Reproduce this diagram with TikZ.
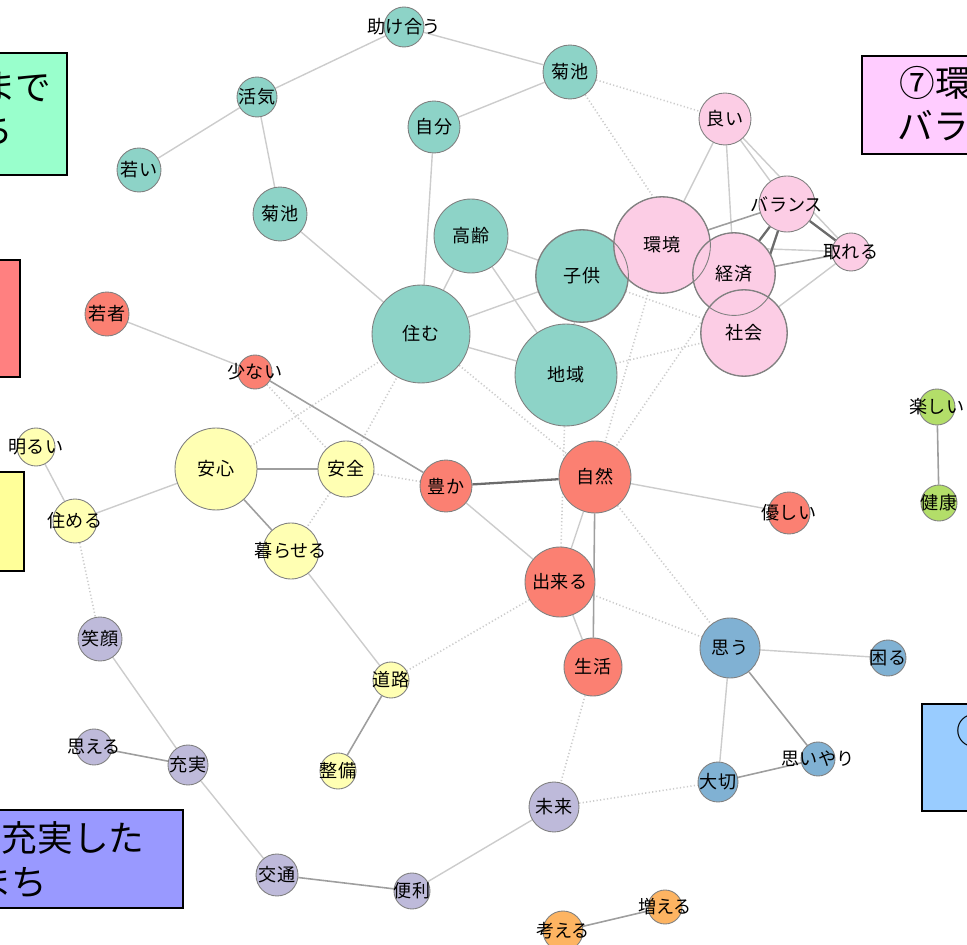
\documentclass[tikz,border=0pt]{standalone}
\usepackage{fontspec}
\setmainfont{Noto Sans CJK JP}
\usetikzlibrary{backgrounds,calc}

\definecolor{cTeal}{HTML}{8DD3C7}
\definecolor{cPink}{HTML}{FCCDE5}
\definecolor{cRed}{HTML}{FB8072}
\definecolor{cYellow}{HTML}{FFFFB3}
\definecolor{cPurple}{HTML}{BEBADA}
\definecolor{cBlue}{HTML}{80B1D3}
\definecolor{cOrange}{HTML}{FDB462}
\definecolor{cGreen}{HTML}{B3DE69}
\definecolor{bGreen}{HTML}{99FFCC}
\definecolor{bRed}{HTML}{FF8080}
\definecolor{bYellow}{HTML}{FFFF99}
\definecolor{bPurple}{HTML}{9999FF}
\definecolor{bPink}{HTML}{FFCCFF}
\definecolor{bBlue}{HTML}{99CCFF}

\tikzset{
  word/.style={circle, draw=black!50, line width=0.5pt, inner sep=0pt},
  rad/.style={minimum size=0.4mm*#1},
  every label/.style={shape=rectangle, draw=none, fill=none, minimum size=0pt,
    inner sep=0pt, font=\fontsize{10.3}{12}\selectfont},
  lite/.style={draw=black!20, line width=0.8pt},
  mid/.style={draw=black!38, line width=0.9pt},
  dark/.style={draw=black!58, line width=1.3pt},
  dots/.style={draw=black!20, line width=0.9pt, dash pattern=on 0.7pt off 1.3pt},
  ring/.style={draw=black!50, line width=0.5pt},
  panel/.style={draw=black, line width=1.1pt},
  paneltext/.style={inner sep=0pt, font=\fontsize{20.3}{24}\selectfont},
}

\begin{document}
\begin{tikzpicture}[x=0.02cm, y=-0.02cm]

      \useasboundingbox (0,0) rectangle (967,945);
      \clip (0,0) rectangle (967,945);

      % teal
      \begin{scope}[every node/.style={word, fill=cTeal}]
        \node[rad=20, label=center:助け合う] (t1)  at (404,27)  {};
        \node[rad=27, label=center:菊池]     (t2)  at (570,72)  {};
        \node[rad=20, label=center:活気]     (t3)  at (257,97)  {};
        \node[rad=26, label=center:自分]     (t4)  at (434,127) {};
        \node[rad=22, label=center:若い]     (t5)  at (139,170) {};
        \node[rad=27, label=center:菊池]     (t6)  at (280,214) {};
        \node[rad=37, label=center:高齢]     (t7)  at (471,236) {};
        \node[rad=46, label=center:子供]     (t8)  at (582,276) {};
        \node[rad=49, label=center:住む]     (t9)  at (421,334) {};
        \node[rad=51, label=center:地域]     (t10) at (566,375) {};
      \end{scope}

      % pink
      \begin{scope}[every node/.style={word, fill=cPink}]
        \node[rad=26, label=center:良い]     (p1) at (725,119) {};
        \node[rad=28, label=center:バランス] (p2) at (787,204) {};
        \node[rad=48, label=center:環境]     (p3) at (662,245) {};
        \node[rad=41, label=center:経済]     (p4) at (734,274) {};
        \node[rad=19, label=center:取れる]   (p5) at (851,252) {};
        \node[rad=43, label=center:社会]     (p6) at (744,333) {};
      \end{scope}

      % red
      \begin{scope}[every node/.style={word, fill=cRed}]
        \node[rad=22, label=center:若者]   (r1) at (107,314) {};
        \node[rad=17, label=center:少ない] (r2) at (255,372) {};
        \node[rad=26, label=center:豊か]   (r3) at (446,486) {};
        \node[rad=36, label=center:自然]   (r4) at (595,477) {};
        \node[rad=35, label=center:出来る] (r5) at (560,582) {};
        \node[rad=21, label=center:優しい] (r6) at (789,513) {};
        \node[rad=29, label=center:生活]   (r7) at (593,667) {};
      \end{scope}

      % yellow
      \begin{scope}[every node/.style={word, fill=cYellow}]
        \node[rad=19, label=center:明るい]   (y1) at (36,447)  {};
        \node[rad=41, label=center:安心]     (y2) at (216,469) {};
        \node[rad=28, label=center:安全]     (y3) at (346,469) {};
        \node[rad=22, label=center:住める]   (y4) at (75,521)  {};
        \node[rad=28, label=center:暮らせる] (y5) at (291,551) {};
        \node[rad=18, label=center:道路]     (y6) at (391,680) {};
        \node[rad=18, label=center:整備]     (y7) at (338,771) {};
      \end{scope}

      % purple
      \begin{scope}[every node/.style={word, fill=cPurple}]
        \node[rad=22, label=center:笑顔]   (u1) at (100,639) {};
        \node[rad=18, label=center:思える] (u2) at (94,747)  {};
        \node[rad=20, label=center:充実]   (u3) at (188,765) {};
        \node[rad=21, label=center:交通]   (u4) at (277,875) {};
        \node[rad=18, label=center:便利]   (u5) at (412,891) {};
        \node[rad=25, label=center:未来]   (u6) at (554,807) {};
      \end{scope}

      % blue
      \begin{scope}[every node/.style={word, fill=cBlue}]
        \node[rad=30, label=center:思う]     (b1) at (730,648) {};
        \node[rad=18, label=center:困る]     (b2) at (888,658) {};
        \node[rad=17, label=center:思いやり] (b3) at (818,759) {};
        \node[rad=20, label=center:大切]     (b4) at (718,782) {};
      \end{scope}

      % orange and green
      \begin{scope}[every node/.style={word, fill=cOrange}]
        \node[rad=17, label=center:増える] (o1) at (665,907) {};
        \node[rad=20, label=center:考える] (o2) at (563,931) {};
      \end{scope}
      \begin{scope}[every node/.style={word, fill=cGreen}]
        \node[rad=18, label=center:楽しい] (g1) at (937,407) {};
        \node[rad=18, label=center:健康]   (g2) at (939,503) {};
      \end{scope}

      % edges under the circles
      \begin{scope}[on background layer]
        \begin{scope}[every edge/.style={dots}]
          \path (t2) edge (p1);
          \path (t2) edge (p6);
          \path (y3) edge (y5);
          \path (r2) edge (y3);
          \path (y2) edge (t9);
          \path (y3) edge (t9);
          \path (y3) edge (r3);
          \path (t9) edge (r4);
          \path (t10) edge (r5);
          \path (p3) edge (r4);
          \path (p4) edge (r4);
          \path (t8) edge (p6);
          \path (t10) edge (p6);
          \path (r4) edge (b1);
          \path (r5) edge (b1);
          \path (r5) edge (y6);
          \path (r7) edge (u6);
          \path (u6) edge (b4);
          \path (y4) edge (u1);
        \end{scope}
        \begin{scope}[every edge/.style={lite}]
          \path (t1) edge (t3);
          \path (t1) edge (t2);
          \path (t3) edge (t5);
          \path (t3) edge (t6);
          \path (t2) edge (t4);
          \path (t4) edge (t9);
          \path (t6) edge (t9);
          \path (t7) edge (t9);
          \path (t7) edge (t8);
          \path (t7) edge (t10);
          \path (t9) edge (t8);
          \path (t9) edge (t10);
          \path (t8) edge (t10);
          \path (p1) edge (p3);
          \path (p1) edge (p4);
          \path (p1) edge (p2);
          \path (p1) edge (p5);
          \path (p3) edge (p5);
          \path (p6) edge (p5);
          \path (r1) edge (r2);
          \path (r3) edge (r5);
          \path (r4) edge (r6);
          \path (r4) edge (r5);
          \path (r5) edge (r7);
          \path (y2) edge (y4);
          \path (y4) edge (y1);
          \path (y5) edge (y6);
          \path (u1) edge (u3);
          \path (u3) edge (u4);
          \path (u5) edge (u6);
          \path (b1) edge (b2);
          \path (b1) edge (b4);
        \end{scope}
        \begin{scope}[every edge/.style={mid}]
          \path (r2) edge (r3);
          \path (r4) edge (r7);
          \path (y2) edge (y3);
          \path (y2) edge (y5);
          \path (y6) edge (y7);
          \path (u2) edge (u3);
          \path (u4) edge (u5);
          \path (b1) edge (b3);
          \path (b4) edge (b3);
          \path (o1) edge (o2);
          \path (g1) edge (g2);
          \path (p3) edge (p2);
          \path (p4) edge (p5);
        \end{scope}
        \begin{scope}[every edge/.style={dark}]
          \path (r3) edge (r4);
          \path (p4) edge (p2);
          \path (p6) edge (p2);
          \path (p2) edge (p5);
        \end{scope}
      \end{scope}

      % outlines where circles overlap
      \foreach \nd in {t8,p3,p4,p6}
        \draw[ring] let \p1=($(\nd.north)-(\nd.center)$) in (\nd.center) circle[radius=\y1];

      % group panels at the edges
      \draw[panel, fill=bGreen] (-100,53) rectangle (67,175);
      \node[paneltext, anchor=east] (gt1) at (52,87)  {まで};
      \node[paneltext, anchor=east] (gt2) at (14,131) {ち};
      \draw[panel, fill=bRed] (-100,260) rectangle (20,377);
      \draw[panel, fill=bYellow] (-100,472) rectangle (24,571);
      \draw[panel, fill=bPurple] (-100,810) rectangle (183,908);
      \node[paneltext, anchor=east] (ut1) at (145,838) {充実した};
      \node[paneltext, anchor=east] (ut2) at (48,882)  {まち};
      \draw[panel, fill=bPink] (862,56) rectangle (1100,154);
      \node[paneltext, anchor=west] (pt1) at (899,83)  {⑦環境};
      \node[paneltext, anchor=west] (pt2) at (897,126) {バランス};
      \draw[panel, fill=bBlue] (922,704) rectangle (1100,811);
      \node[paneltext, anchor=west] (bt1) at (956,731) {⑤};

    \end{tikzpicture}
\end{document}
